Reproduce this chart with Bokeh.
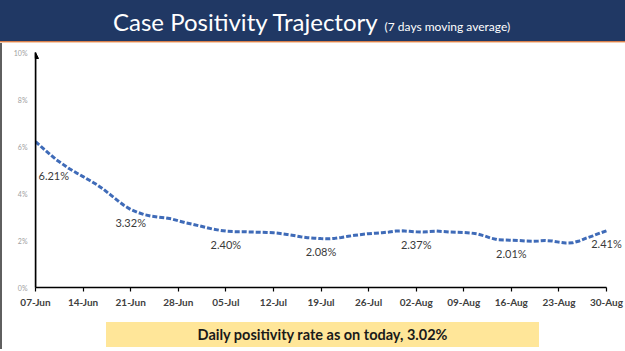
import pandas as pd
from bokeh.plotting import figure
from bokeh.models import (FixedTicker, DatetimeTickFormatter,
                          PrintfTickFormatter, Label, Arrow, NormalHead, Div)
from bokeh.layouts import column, row
from bokeh.embed import file_html
from bokeh.resources import INLINE

# ---------------- data ----------------
start_date = "2020-06-07"
end_date = "2020-08-30"
positivity = [
    6.21, 5.95, 5.70, 5.45, 5.25, 5.05, 4.88,
    4.72, 4.55, 4.38, 4.18, 3.95, 3.72, 3.50,
    3.32, 3.20, 3.10, 3.04, 3.00, 2.97, 2.92,
    2.84, 2.76, 2.70, 2.63, 2.56, 2.49, 2.44,
    2.40, 2.38, 2.37, 2.37, 2.36, 2.35, 2.34,
    2.33, 2.30, 2.26, 2.21, 2.16, 2.12, 2.10,
    2.08, 2.07, 2.09, 2.13, 2.18, 2.22, 2.26,
    2.29, 2.31, 2.33, 2.36, 2.40, 2.41, 2.39,
    2.37, 2.36, 2.38, 2.40, 2.38, 2.36, 2.35,
    2.34, 2.32, 2.28, 2.20, 2.10, 2.03, 2.02,
    2.01, 2.00, 1.98, 1.97, 1.98, 2.00, 1.98,
    1.93, 1.89, 1.90, 1.98, 2.10, 2.20, 2.31,
    2.41,
]
label_days = [14, 28, 42, 56, 70, 84]
label_texts = ["3.32%", "2.40%", "2.08%", "2.37%", "2.01%", "2.41%"]
first_label_text = "6.21%"
y_ticks = [0, 2, 4, 6, 8, 10]
title_text = "Case Positivity Trajectory"
subtitle_text = "(7 days moving average)"
footer_text = "Daily positivity rate as on today, 3.02%"

dates = pd.date_range(start_date, periods=len(positivity), freq="D")
tick_dates = pd.date_range(start_date, end_date, freq="7D")
tick_ms = [t.value / 1e6 for t in tick_dates]

FONT = "Lato"
NAVY = "#203864"
BORDER = "#5f5f5f"

# ---------------- header ----------------
header = Div(
    width=625, height=43, margin=(0, 0, 0, 0),
    text=(
        f'<div style="position:relative;width:625px;height:41px;background:{NAVY};">'
        f'<div style="position:absolute;left:113px;top:5px;white-space:nowrap;'
        f'font-family:{FONT};color:white;">'
        f'<span style="font-size:24px;">{title_text}</span>'
        f'<span style="font-size:12px;margin-left:7px;">{subtitle_text}</span>'
        f'</div></div>'
        f'<div style="width:625px;height:1px;background:#D9804B;"></div>'
        f'<div style="width:625px;height:1px;background:#F6CDB0;"></div>'
    ),
)

# ---------------- chart ----------------
p = figure(
    width=623, height=275, margin=(0, 0, 0, 0),
    x_axis_type="datetime",
    x_range=(dates[0], dates[-1] + pd.Timedelta(days=2.5)), y_range=(0, 10),
    output_backend="svg", toolbar_location=None,
    min_border_left=33, min_border_right=2, min_border_top=9, min_border_bottom=31,
    outline_line_color=None, background_fill_color="white", border_fill_color="white",
)
p.grid.visible = False

p.line(dates, positivity, line_color="#3F6BB8", line_width=3, line_dash="5 2")

for d, t in zip(label_days, label_texts):
    p.add_layout(Label(x=dates[d], y=positivity[d], text=t, y_offset=-13,
                       text_align="center", text_baseline="middle",
                       text_font=FONT, text_font_size="11px", text_color="#3a3a3a"))
p.add_layout(Label(x=dates[0], y=positivity[0], text=first_label_text,
                   x_offset=3, y_offset=-34, text_align="left", text_baseline="middle",
                   text_font=FONT, text_font_size="11px", text_color="#3a3a3a"))

# y axis arrow head
p.add_layout(Arrow(x_start=tick_ms[0], y_start=y_ticks[0], x_end=tick_ms[0], y_end=y_ticks[-1],
                   line_color="black", line_width=1.5,
                   end=NormalHead(size=6, fill_color="black", line_color="black")))

xa = p.xaxis[0]
xa.bounds = (tick_ms[0], tick_ms[-1])
xa.ticker = FixedTicker(ticks=tick_ms)
xa.formatter = DatetimeTickFormatter(days="%d-%b", months="%d-%b", years="%d-%b",
                                     hours="%d-%b", hourmin="%d-%b")
xa.axis_line_color = "black"
xa.axis_line_width = 1.5
xa.major_tick_line_color = "black"
xa.major_tick_line_width = 1.2
xa.major_tick_in = 0
xa.major_tick_out = 4
xa.minor_tick_line_color = None
xa.major_label_standoff = 4
xa.major_label_text_font = FONT
xa.major_label_text_font_style = "bold"
xa.major_label_text_font_size = "10px"
xa.major_label_text_color = "#404040"

ya = p.yaxis[0]
ya.ticker = FixedTicker(ticks=y_ticks)
ya.formatter = PrintfTickFormatter(format="%d%%")
ya.axis_line_color = "black"
ya.axis_line_width = 1.5
ya.major_tick_line_color = None
ya.major_tick_out = 0
ya.major_tick_in = 0
ya.minor_tick_line_color = None
ya.major_label_standoff = 8
ya.major_label_text_font = FONT
ya.major_label_text_font_size = "7px"
ya.major_label_text_color = "#A0A0A0"

# ---------------- footer ----------------
footer = Div(
    width=623, height=31, margin=(0, 0, 0, 0),
    text=(
        f'<div style="position:relative;width:623px;height:31px;background:white;">'
        f'<div style="position:absolute;left:104px;top:4px;width:433px;height:25px;'
        f'background:#FFE699;text-align:center;line-height:25px;font-family:{FONT};'
        f'font-size:14.5px;font-weight:bold;color:#1a1a1a;white-space:nowrap;">'
        f'{footer_text}</div></div>'
    ),
)

left_bar = Div(width=2, height=306, margin=(0, 0, 0, 0),
               text=f'<div style="width:2px;height:306px;background:{BORDER};"></div>')
bottom_bar = Div(width=625, height=2, margin=(0, 0, 0, 0),
                 text=f'<div style="width:625px;height:2px;background:{BORDER};"></div>')

body = row(left_bar, column(p, footer, spacing=0, styles={"background-color": "white"}),
           spacing=0, styles={"background-color": "white"})
layout = column(header, body, bottom_bar, spacing=0,
                styles={"background-color": "white"})

open("out.html", "w").write(file_html(layout, INLINE))
